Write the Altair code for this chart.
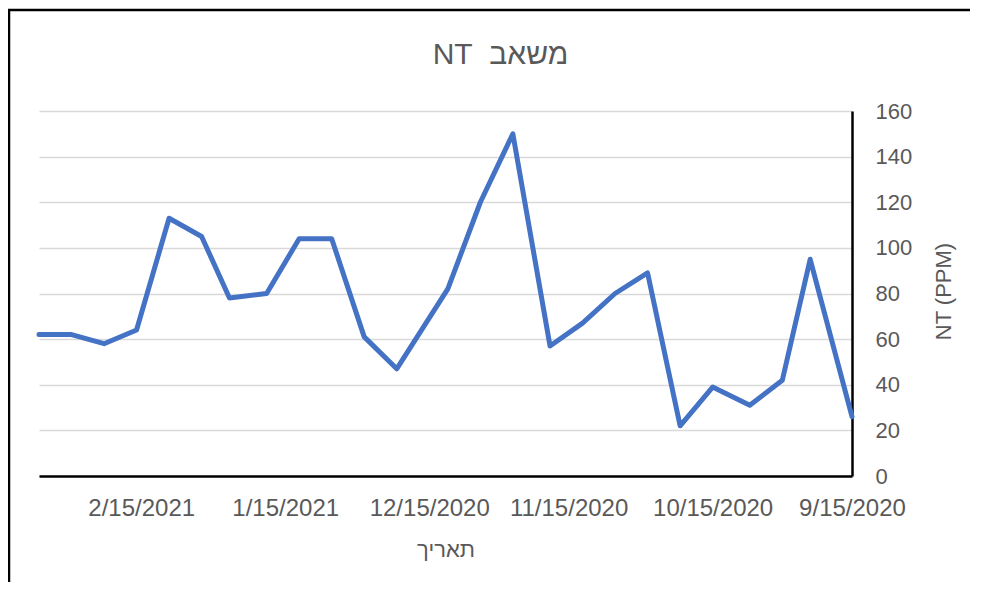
import altair as alt
import pandas as pd

dates = ["2020-09-15", "2020-09-24", "2020-09-30", "2020-10-07", "2020-10-15",
         "2020-10-22", "2020-10-29", "2020-11-05", "2020-11-12", "2020-11-19",
         "2020-11-27", "2020-12-04", "2020-12-11", "2020-12-22", "2020-12-29",
         "2021-01-05", "2021-01-12", "2021-01-19", "2021-01-27", "2021-02-02",
         "2021-02-09", "2021-02-16", "2021-02-23", "2021-03-02", "2021-03-09"]
nt_values = [26, 95, 42, 31, 39, 22, 89, 80, 67, 57, 150, 120, 82, 47, 61,
             104, 104, 80, 78, 105, 113, 64, 58, 62, 62]
tick_dates = [(2020, 9, 15), (2020, 10, 15), (2020, 11, 15), (2020, 12, 15),
              (2021, 1, 15), (2021, 2, 15)]
y_ticks = [0, 20, 40, 60, 80, 100, 120, 140, 160]

title_text = "NT\u00a0\u00a0משאב"
x_title = "תאריך"
y_title = "NT (PPM)"

df = pd.DataFrame({"date": dates, "nt": nt_values})

FONT = "Liberation Sans, Arial, DejaVu Sans"
GREY = "#595959"

line = alt.Chart(df).mark_line(
    color="#4472C4", strokeWidth=5, strokeJoin="round", strokeCap="round"
).encode(
    x=alt.X("date:T",
            scale=alt.Scale(reverse=True,
                            domain=[alt.DateTime(year=2020, month=9, date=15),
                                    alt.DateTime(year=2021, month=3, date=9)]),
            axis=alt.Axis(
                title=x_title,
                values=[alt.DateTime(year=y, month=m, date=d) for (y, m, d) in tick_dates],
                format="%-m/%-d/%Y",
                grid=False, ticks=False, tickSize=0,
                domainColor="black", domainWidth=2.5,
                labelFont=FONT, labelFontSize=24, labelColor=GREY,
                labelPadding=20, labelOverlap=False, labelFlush=False,
                titleFont=FONT, titleFontSize=22, titleColor=GREY,
                titleFontWeight="normal", titlePadding=19,
            )),
    y=alt.Y("nt:Q",
            scale=alt.Scale(domain=[0, 160], nice=False),
            axis=alt.Axis(
                orient="right", title=y_title, values=y_ticks,
                grid=True, gridColor="#d9d9d9", gridWidth=1.5,
                ticks=False, tickSize=0,
                domainColor="black", domainWidth=2.5,
                labelFont=FONT, labelFontSize=22, labelColor=GREY,
                labelPadding=23, labelAlign="left",
                titleFont=FONT, titleFontSize=22, titleColor=GREY,
                titleFontWeight="normal", titleAngle=270,
                titleX=91, titleY=180, titleAlign="center", titleBaseline="middle",
            )),
)

frame_src = pd.DataFrame({"k": [0]})
frame_top = alt.Chart(frame_src).mark_rule(color="black", strokeWidth=2.5).encode(
    x=alt.value(-31), x2=alt.value(1200), y=alt.value(-101),
)
frame_left = alt.Chart(frame_src).mark_rule(color="black", strokeWidth=2.5).encode(
    x=alt.value(-30), y=alt.value(-102), y2=alt.value(900),
)

chart = alt.layer(frame_top, frame_left, line).properties(
    width=813, height=365,
    title=alt.TitleParams(title_text, font=FONT, fontSize=30, color=GREY,
                          fontWeight="normal", anchor="middle", dx=55,
                          baseline="alphabetic", offset=-86),
    autosize=alt.AutoSizeParams(type="none"),
    padding={"left": 31, "top": 103, "right": 118, "bottom": 106},
).configure(background="white", view=alt.ViewConfig(stroke=None))

chart.save("out.html", embed_options={"renderer": "svg", "actions": False})
